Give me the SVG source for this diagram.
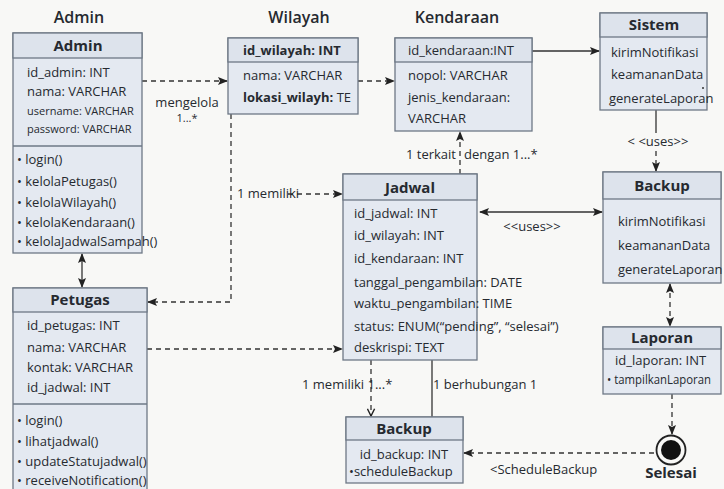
<svg xmlns="http://www.w3.org/2000/svg" width="724" height="489" viewBox="0 0 724 489">
<style>
text{font-family:"Open Sans","Noto Sans","Liberation Sans",sans-serif;fill:#262a30;font-size:13px}
.box{fill:#e4e9f1;stroke:#6e7886;stroke-width:1.3}
.hdr{fill:#dde3ec;stroke:#6e7886;stroke-width:1.3}
.sep{stroke:#6e7886;stroke-width:1.3}
.h{font-weight:bold;font-size:15px}
.t{font-size:16px;font-weight:600}
.s{font-size:11px}
.c{text-anchor:middle}
.ln{fill:none;stroke:#333;stroke-width:1.3}
.d{stroke-dasharray:5,4}
</style>
<defs>
<marker id="a" viewBox="0 0 10 10" refX="9" refY="5" markerWidth="10" markerHeight="10" markerUnits="userSpaceOnUse" orient="auto-start-reverse"><path d="M0,1 L10,5 L0,9 L2,5 Z" fill="#222"/></marker>
<marker id="v" viewBox="0 0 10 10" refX="9" refY="5" markerWidth="9" markerHeight="9" markerUnits="userSpaceOnUse" orient="auto"><path d="M1,1 L9,5 L1,9" fill="none" stroke="#222" stroke-width="1.6"/></marker>
</defs>
<rect width="724" height="489" fill="#f8f8f6"/>

<text class="t c" x="79" y="23">Admin</text>
<text class="t c" x="299" y="23">Wilayah</text>
<text class="t c" x="457" y="23">Kendaraan</text>

<g id="connectors">
<path class="ln d" d="M142,81 H227" marker-end="url(#a)"/>
<path class="ln d" d="M358,81 H394" marker-end="url(#a)"/>
<path class="ln" d="M532,51 H599" marker-end="url(#a)"/>
<path class="ln" d="M656,110 V133"/>
<path class="ln d" d="M656,151 V171" marker-end="url(#a)"/>
<path class="ln" d="M82,254 V287" marker-start="url(#a)" marker-end="url(#a)"/>
<path class="ln d" d="M231,114 V302 H148" marker-end="url(#a)"/>
<path class="ln d" d="M288,194 H342" marker-end="url(#a)"/>
<path class="ln d" d="M147,349 H342" marker-end="url(#a)"/>
<path class="ln d" d="M460,174 V132" marker-end="url(#a)"/>
<path class="ln" d="M480,212 H602" marker-start="url(#a)" marker-end="url(#a)"/>
<path class="ln d" d="M371,360 V416" marker-end="url(#v)"/>
<path class="ln" d="M432,360 V417"/>
<path class="ln d" d="M670,284 V326" marker-start="url(#a)" marker-end="url(#a)"/>
<path class="ln d" d="M672,394 V434" marker-end="url(#a)"/>
<path class="ln d" d="M654,453 H464" marker-end="url(#a)"/>
<text class="c" x="187" y="107">mengelola</text>
<text class="c s" x="187" y="122">1...*</text>
<text x="456" y="159" text-anchor="end">1 terkait</text>
<text x="464" y="159">dengan 1...*</text>
<text class="c" x="532" y="231">&lt;&lt;uses&gt;&gt;</text>
<text class="c" x="658" y="146">&lt; &lt;uses&gt;&gt;</text>
<text x="237" y="198">1 memiliki</text>
<text x="302" y="389">1 memiliki 1...*</text>
<text x="433" y="389">1 berhubungan 1</text>
<text x="490" y="474">&lt;ScheduleBackup</text>
</g>

<g id="admin">
<rect class="box" x="13" y="33" width="129" height="220"/>
<rect class="hdr" x="13" y="33" width="129" height="25"/>
<text class="h c" x="78" y="51">Admin</text>
<text x="27" y="77">id_admin: INT</text>
<text x="27" y="96">nama: VARCHAR</text>
<text class="s" x="27" y="115">username: VARCHAR</text>
<text class="s" x="27" y="133">password: VARCHAR</text>
<line class="sep" x1="13" y1="146" x2="142" y2="146"/>
<text x="17" y="164">• login()</text>
<text x="17" y="186">• kelolaPetugas()</text>
<text x="17" y="207">• kelolaWilayah()</text>
<text x="17" y="227">• kelolaKendaraan()</text>
<text x="17" y="246">• kelolaJadwalSampah()</text>
</g>

<g id="petugas">
<rect class="box" x="13" y="288" width="134" height="210"/>
<rect class="hdr" x="13" y="288" width="134" height="24"/>
<text class="h c" x="80" y="305">Petugas</text>
<text x="27" y="330">id_petugas: INT</text>
<text x="27" y="352">nama: VARCHAR</text>
<text x="27" y="372">kontak: VARCHAR</text>
<text x="27" y="392">id_jadwal: INT</text>
<line class="sep" x1="13" y1="404" x2="147" y2="404"/>
<text x="17" y="425">• login()</text>
<text x="17" y="446">• lihatjadwal()</text>
<text x="17" y="466">• updateStatujadwal()</text>
<text x="17" y="485">• receiveNotification()</text>
</g>

<g id="wilayah">
<rect class="box" x="228" y="38" width="130" height="76"/>
<rect class="hdr" x="228" y="38" width="130" height="24"/>
<text x="243" y="55" font-weight="bold">id_wilayah: INT</text>
<text x="243" y="80">nama: VARCHAR</text>
<text x="243" y="102"><tspan font-weight="bold">lokasi_wilayh:</tspan> TE</text>
</g>

<g id="kendaraan">
<rect class="box" x="395" y="38" width="137" height="93"/>
<rect class="hdr" x="395" y="38" width="137" height="24"/>
<text x="408" y="55">id_kendaraan:INT</text>
<text x="408" y="80">nopol: VARCHAR</text>
<text x="408" y="102">jenis_kendaraan:</text>
<text x="408" y="123">VARCHAR</text>
</g>

<g id="sistem">
<rect class="box" x="600" y="13" width="107" height="97"/>
<rect class="hdr" x="600" y="13" width="107" height="24"/>
<text class="h c" x="654" y="30">Sistem</text>
<text x="611" y="57" font-size="12">kirimNotifikasi</text>
<text x="611" y="79" font-size="12">keamananData</text>
<text x="609" y="103" font-size="11">generateLaporan</text>
<circle cx="703" cy="88" r="1" fill="#333"/>
</g>

<g id="backup-sistem">
<rect class="box" x="603" y="172" width="118" height="111"/>
<rect class="hdr" x="603" y="172" width="118" height="27"/>
<text class="h c" x="662" y="191">Backup</text>
<text x="618" y="226" font-size="12">kirimNotifikasi</text>
<text x="618" y="250" font-size="12">keamananData</text>
<text x="618" y="274" font-size="12">generateLaporan</text>
</g>

<g id="jadwal">
<rect class="box" x="343" y="174" width="134" height="186"/>
<rect class="hdr" x="343" y="174" width="134" height="26"/>
<text class="h c" x="410" y="193">Jadwal</text>
<text x="354" y="218">id_jadwal: INT</text>
<text x="354" y="240">id_wilayah: INT</text>
<text x="354" y="263">id_kendaraan: INT</text>
<text x="354" y="287">tanggal_pengambilan: DATE</text>
<text x="354" y="308">waktu_pengambilan: TIME</text>
<text x="354" y="331">status: ENUM(“pending”, “selesai”)</text>
<text x="354" y="352">deskrispi: TEXT</text>
</g>

<g id="laporan">
<rect class="box" x="603" y="327" width="118" height="67"/>
<rect class="hdr" x="603" y="327" width="118" height="22"/>
<text class="h c" x="662" y="343">Laporan</text>
<text x="615" y="365">id_laporan: INT</text>
<text x="607" y="384" font-size="11" textLength="104" lengthAdjust="spacingAndGlyphs">• tampilkanLaporan</text>
</g>

<g id="backup">
<rect class="box" x="346" y="417" width="117" height="66"/>
<rect class="hdr" x="346" y="417" width="117" height="23"/>
<text class="h c" x="404" y="434">Backup</text>
<text class="c" x="404" y="459">id_backup: INT</text>
<text x="349" y="476" font-size="12">•scheduleBackup</text>
</g>

<g id="selesai">
<circle cx="671" cy="450" r="14.5" fill="#f8f8f6" stroke="#222" stroke-width="1.8"/>
<circle cx="671" cy="450" r="10" fill="#111"/>
<text class="h c" x="671" y="478">Selesai</text>
</g>
</svg>
